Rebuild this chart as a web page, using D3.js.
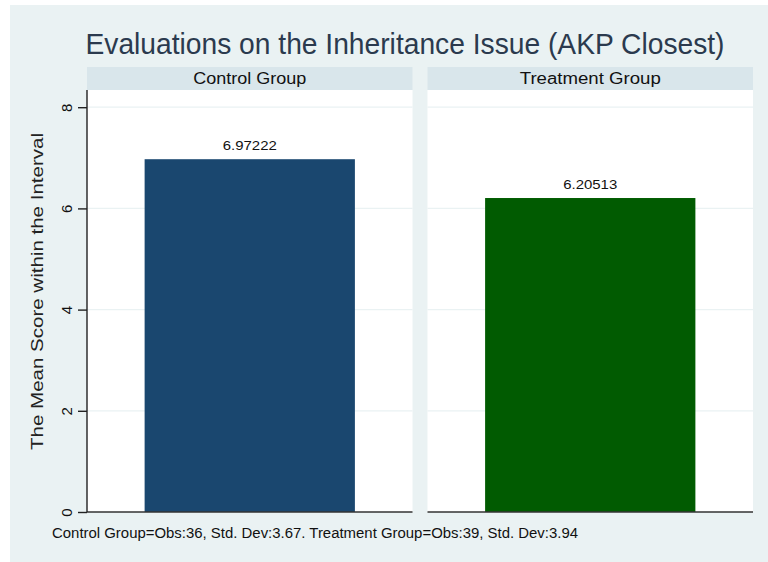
<!DOCTYPE html>
<html>
<head>
<meta charset="utf-8">
<script src="https://cdn.jsdelivr.net/npm/d3@7"></script>
<style>
  body { margin: 0; background: #fff; }
  svg { font-family: "Liberation Sans", Arial, sans-serif; }
</style>
</head>
<body>
<div id="chart"></div>
<script>
// chart data
const groups = ['Control Group', 'Treatment Group'];
const means = [6.97222, 6.20513];
const meanLabels = ['6.97222', '6.20513'];
const obs = [36, 39];
const stdDevs = ['3.67', '3.94'];
const yTicks = [0, 2, 4, 6, 8];

const width = 768;
const height = 562;
const barColors = ['#1a476f', '#015b01'];

const svg = d3.select('#chart')
  .append('svg')
  .attr('width', width)
  .attr('height', height);

// graph region
svg.append('rect')
  .attr('x', 10).attr('y', 5)
  .attr('width', width - 10).attr('height', height - 5)
  .attr('fill', '#eaf2f3');

svg.append('text')
  .attr('x', 405).attr('y', 54)
  .attr('text-anchor', 'middle')
  .attr('font-size', 30)
  .attr('textLength', 639)
  .attr('lengthAdjust', 'spacingAndGlyphs')
  .attr('fill', '#2b3a4e')
  .text('Evaluations on the Inheritance Issue (AKP Closest)');

const panel = d3.scaleBand()
  .domain(groups)
  .range([87, 753])
  .paddingInner(0.044);

const plotTop = 90;
const y = d3.scaleLinear()
  .domain([0, 8.34])
  .range([512, plotTop]);

const headerWidths = [113, 141];

const panels = svg.selectAll('g.panel')
  .data(groups.map((g, i) => ({ group: g, mean: means[i], label: meanLabels[i], color: barColors[i], hw: headerWidths[i] })))
  .enter()
  .append('g')
  .attr('class', 'panel')
  .attr('transform', d => `translate(${panel(d.group)},0)`);

// header strip
panels.append('rect')
  .attr('x', 0).attr('y', 67)
  .attr('width', panel.bandwidth()).attr('height', plotTop - 67)
  .attr('fill', '#d9e6eb');

panels.append('text')
  .attr('x', panel.bandwidth() / 2).attr('y', 84)
  .attr('text-anchor', 'middle')
  .attr('font-size', 16)
  .attr('textLength', d => d.hw)
  .attr('lengthAdjust', 'spacingAndGlyphs')
  .attr('fill', '#111')
  .text(d => d.group);

// plot area
panels.append('rect')
  .attr('x', 0).attr('y', plotTop)
  .attr('width', panel.bandwidth()).attr('height', y(0) - plotTop)
  .attr('fill', '#fff');

panels.each(function() {
  d3.select(this).selectAll('line.grid')
    .data(yTicks.filter(t => t > 0))
    .enter()
    .append('line')
    .attr('class', 'grid')
    .attr('x1', 0).attr('x2', panel.bandwidth())
    .attr('y1', t => y(t)).attr('y2', t => y(t))
    .attr('stroke', '#eaf2f3')
    .attr('stroke-width', 1.2);
});

const xInner = d3.scaleBand()
  .domain([0])
  .range([0, panel.bandwidth()])
  .paddingOuter(0.274);

panels.append('rect')
  .attr('x', xInner(0))
  .attr('width', xInner.bandwidth())
  .attr('y', d => y(d.mean))
  .attr('height', d => y(0) - y(d.mean))
  .attr('fill', d => d.color);

panels.append('text')
  .attr('x', xInner(0) + xInner.bandwidth() / 2)
  .attr('y', d => y(d.mean) - 9.5)
  .attr('text-anchor', 'middle')
  .attr('font-size', 13)
  .attr('textLength', 54)
  .attr('lengthAdjust', 'spacingAndGlyphs')
  .attr('fill', '#111')
  .text(d => d.label);

// bottom axis line
panels.append('line')
  .attr('x1', 0).attr('x2', panel.bandwidth())
  .attr('y1', y(0)).attr('y2', y(0))
  .attr('stroke', '#333')
  .attr('stroke-width', 1.6);

// y axis
const yAxis = svg.append('g')
  .attr('transform', `translate(87,0)`)
  .call(d3.axisLeft(y).tickValues(yTicks).tickSize(9).tickPadding(8));
yAxis.select('.domain').attr('stroke', '#222').attr('stroke-width', 1.4)
  .attr('d', `M0,${plotTop}V${y(0)}`);
yAxis.selectAll('.tick line').attr('stroke', '#222').attr('stroke-width', 1.4);
yAxis.selectAll('.tick text')
  .attr('font-size', 15)
  .attr('font-family', '"Liberation Sans", Arial, sans-serif')
  .attr('fill', '#111')
  .attr('x', null).attr('dy', null)
  .attr('text-anchor', 'middle')
  .attr('transform', 'translate(-21,0) rotate(-90)')
  .attr('y', 0)
  .attr('dominant-baseline', 'central');

svg.append('text')
  .attr('transform', `translate(43,${(plotTop + y(0)) / 2 - 9.5}) rotate(-90)`)
  .attr('text-anchor', 'middle')
  .attr('font-size', 17)
  .attr('textLength', 317)
  .attr('lengthAdjust', 'spacingAndGlyphs')
  .attr('fill', '#222')
  .text('The Mean Score within the Interval');

// note
const note = groups.map((g, i) => `${g}=Obs:${obs[i]}, Std. Dev:${stdDevs[i]}`).join('. ');
svg.append('text')
  .attr('x', 52).attr('y', 538)
  .attr('font-size', 14)
  .attr('textLength', 526)
  .attr('lengthAdjust', 'spacingAndGlyphs')
  .attr('fill', '#111')
  .text(note);
</script>
</body>
</html>
